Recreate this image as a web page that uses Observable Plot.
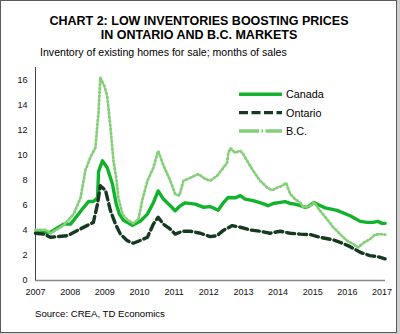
<!DOCTYPE html>
<html><head><meta charset="utf-8">
<script src="https://cdn.jsdelivr.net/npm/d3@7"></script>
<script src="https://cdn.jsdelivr.net/npm/@observablehq/plot@0.6"></script>
<style>
html,body{margin:0;padding:0;background:#cfcfcf;width:400px;height:334px;overflow:hidden;font-family:"Liberation Sans",Arial,sans-serif;}
#frame{position:absolute;left:0;top:0;width:395px;height:331px;border:1px solid #5a5a5a;background:#fff;}
#title{position:absolute;left:0;width:398px;top:13.5px;text-align:center;font-weight:bold;font-size:12.5px;line-height:14.3px;color:#000;}
#subtitle{position:absolute;left:40px;top:46px;font-size:10.6px;color:#000;white-space:nowrap;}
#chart{position:absolute;left:0;top:60px;}
#source{position:absolute;left:35px;top:308px;font-size:9.6px;color:#000;white-space:nowrap;}
#legend{position:absolute;left:236px;top:84px;}
</style>
</head><body>
<div id="frame"></div>
<div id="title">CHART 2: LOW INVENTORIES BOOSTING PRICES<br>IN ONTARIO AND B.C. MARKETS</div>
<div id="subtitle">Inventory of existing homes for sale; months of sales</div>
<div id="chart"></div>
<div id="legend"></div>
<div id="source">Source: CREA, TD Economics</div>
<script>
// ---- Data (decimal years, months of sales) ----
const seriesNames = ["Canada", "Ontario", "B.C."];
const seriesColors = ["#12b32c", "#153a1f", "#86cf7a"];

const canadaDates = [2007.0, 2007.43, 2007.81, 2008.01, 2008.10, 2008.38, 2008.53, 2008.67, 2008.79, 2008.82, 2008.93, 2009.07, 2009.22, 2009.33, 2009.42, 2009.54, 2009.80, 2010.03, 2010.23, 2010.40, 2010.54, 2010.69, 2010.89, 2011.03, 2011.18, 2011.32, 2011.61, 2011.84, 2012.04, 2012.27, 2012.42, 2012.56, 2012.76, 2012.91, 2013.05, 2013.28, 2013.54, 2013.71, 2013.86, 2014.06, 2014.20, 2014.35, 2014.49, 2014.64, 2014.78, 2014.87, 2015.04, 2015.16, 2015.36, 2015.70, 2016.08, 2016.37, 2016.57, 2016.74, 2016.88, 2017.0, 2017.09];
const canadaValues = [3.8, 3.85, 4.5, 4.5, 4.8, 5.8, 6.3, 6.3, 6.6, 8.7, 9.55, 9.0, 7.7, 6.1, 5.3, 4.8, 4.4, 4.75, 5.3, 6.2, 7.15, 6.5, 5.97, 5.57, 5.97, 6.2, 6.1, 5.85, 5.9, 5.6, 6.2, 6.63, 6.6, 6.77, 6.5, 6.37, 6.15, 5.97, 6.15, 6.23, 6.3, 6.15, 6.1, 5.97, 5.84, 5.9, 6.23, 6.05, 5.8, 5.6, 5.17, 4.72, 4.64, 4.64, 4.72, 4.56, 4.56];

const ontarioDates = [2007.0, 2007.25, 2007.43, 2007.92, 2008.21, 2008.50, 2008.67, 2008.79, 2008.87, 2009.02, 2009.16, 2009.31, 2009.45, 2009.65, 2009.82, 2010.03, 2010.23, 2010.40, 2010.54, 2010.69, 2010.89, 2011.03, 2011.24, 2011.47, 2011.76, 2012.04, 2012.24, 2012.42, 2012.68, 2012.91, 2013.20, 2013.48, 2013.77, 2014.06, 2014.35, 2014.64, 2014.93, 2015.21, 2015.59, 2015.79, 2016.08, 2016.37, 2016.65, 2016.88, 2017.09];
const ontarioValues = [3.77, 3.7, 3.45, 3.58, 4.0, 4.4, 4.64, 6.1, 7.56, 7.2, 5.6, 4.5, 3.7, 3.18, 2.97, 3.2, 3.45, 4.5, 5.04, 4.5, 4.1, 3.7, 3.93, 3.93, 3.77, 3.5, 3.58, 4.0, 4.38, 4.25, 4.03, 3.93, 3.77, 3.93, 3.77, 3.7, 3.66, 3.45, 3.24, 3.05, 2.7, 2.25, 1.99, 1.9, 1.73];

const bcDates = [2007.0, 2007.3, 2007.43, 2007.81, 2008.10, 2008.30, 2008.44, 2008.58, 2008.73, 2008.82, 2008.87, 2008.99, 2009.07, 2009.16, 2009.25, 2009.33, 2009.39, 2009.51, 2009.59, 2009.68, 2009.82, 2009.97, 2010.08, 2010.23, 2010.40, 2010.54, 2010.69, 2010.89, 2011.03, 2011.15, 2011.27, 2011.47, 2011.70, 2011.90, 2012.04, 2012.24, 2012.42, 2012.53, 2012.56, 2012.62, 2012.76, 2012.91, 2012.99, 2013.14, 2013.28, 2013.48, 2013.69, 2013.83, 2013.97, 2014.12, 2014.23, 2014.35, 2014.49, 2014.64, 2014.72, 2014.78, 2014.93, 2015.04, 2015.21, 2015.41, 2015.59, 2015.79, 2015.99, 2016.16, 2016.31, 2016.45, 2016.65, 2016.80, 2016.94, 2017.09];
const bcValues = [4.03, 4.05, 3.75, 4.4, 5.3, 6.6, 8.8, 9.8, 10.6, 13.5, 16.2, 15.5, 14.7, 12.3, 9.55, 8.2, 6.6, 5.3, 5.0, 4.8, 4.56, 4.9, 6.4, 7.96, 9.0, 10.35, 9.2, 7.96, 6.9, 6.77, 7.96, 8.2, 8.5, 8.1, 7.96, 8.36, 9.0, 9.4, 10.1, 10.56, 10.2, 10.35, 10.1, 9.4, 8.76, 7.96, 7.4, 7.2, 7.4, 7.56, 7.8, 6.9, 6.5, 6.2, 5.9, 5.84, 5.97, 6.23, 5.57, 4.9, 4.25, 3.7, 3.18, 2.92, 2.65, 2.97, 3.3, 3.66, 3.7, 3.66];

const xTickYears = [2007, 2008, 2009, 2010, 2011, 2012, 2013, 2014, 2015, 2016, 2017];
const yTickValues = [0, 2, 4, 6, 8, 10, 12, 14, 16];
const xDomain = [2007, 2017.1];
const yDomain = [0, 17];

const toRows = (dates, values) => dates.map((d, i) => ({date: d, value: values[i]}));

const chart = Plot.plot({
  width: 400, height: 240,
  marginLeft: 35, marginRight: 15, marginTop: 7, marginBottom: 20,
  style: {fontFamily: "'Liberation Sans', Arial, sans-serif", fontSize: "9px", color: "#111", background: "transparent", overflow: "visible"},
  x: {domain: xDomain, label: null},
  y: {domain: yDomain, label: null},
  marks: [
    Plot.axisX(xTickYears, {tickSize: 0, tickPadding: 8, tickFormat: d => String(d), fill: "#111", label: null}),
    Plot.axisY(yTickValues, {tickSize: 0, tickPadding: 8, fill: "#111", label: null}),
    Plot.ruleY([yDomain[0]], {stroke: "#8a8a8a", strokeWidth: 1.6}),
    Plot.ruleX([xDomain[0]], {stroke: "#444", strokeWidth: 1}),
    Plot.line(toRows(canadaDates, canadaValues), {x: "date", y: "value", stroke: seriesColors[0], strokeWidth: 3.4, strokeLinejoin: "round", strokeLinecap: "round"}),
    Plot.line(toRows(ontarioDates, ontarioValues), {x: "date", y: "value", stroke: seriesColors[1], strokeWidth: 3.4, strokeDasharray: "8,4", strokeLinejoin: "round"}),
    Plot.line(toRows(bcDates, bcValues), {x: "date", y: "value", stroke: seriesColors[2], strokeWidth: 2.8, strokeDasharray: "1.5,2.5", strokeLinejoin: "round"})
  ]
});
document.getElementById("chart").appendChild(chart);

// ---- Legend ----
const legendDash = [null, "9,3.5", "20,2.5,1.5,2.5"];
const ns = "http://www.w3.org/2000/svg";
const lg = document.createElementNS(ns, "svg");
lg.setAttribute("width", 110); lg.setAttribute("height", 60);
seriesNames.forEach((name, i) => {
  const yy = 10.3 + i * 18.35;
  const ln = document.createElementNS(ns, "line");
  ln.setAttribute("x1", 3); ln.setAttribute("x2", 46);
  ln.setAttribute("y1", yy); ln.setAttribute("y2", yy);
  ln.setAttribute("stroke", seriesColors[i]);
  ln.setAttribute("stroke-width", 3.4);
  if (legendDash[i]) ln.setAttribute("stroke-dasharray", legendDash[i]);
  lg.appendChild(ln);
  const tx = document.createElementNS(ns, "text");
  tx.setAttribute("x", 50); tx.setAttribute("y", yy);
  tx.setAttribute("dy", "0.36em");
  tx.setAttribute("font-size", "10.8px");
  tx.setAttribute("font-family", "'Liberation Sans', Arial, sans-serif");
  tx.setAttribute("fill", "#000");
  tx.textContent = name;
  lg.appendChild(tx);
});
document.getElementById("legend").appendChild(lg);
</script>
</body></html>
